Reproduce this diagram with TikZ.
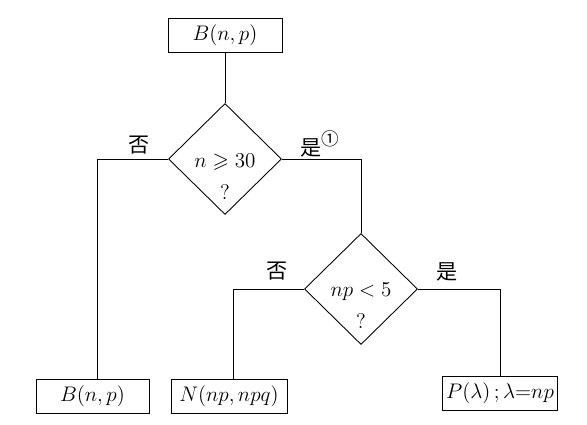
\documentclass[tikz,border=0pt]{standalone}
\usepackage{amsmath, amssymb}
\usepackage{fontspec}
\newfontfamily\cjk{Noto Sans CJK SC}
\usepackage{tikz}
\usetikzlibrary{positioning, calc, shapes.geometric}

\begin{document}
\begin{tikzpicture}[
  line width=0.5pt,
  distbox/.style={draw, rectangle, minimum width=2.28cm, minimum height=0.68cm, inner sep=2pt, font=\large},
  decision/.style={draw, diamond, minimum width=2.26cm, minimum height=2.22cm, inner sep=0pt},
  branchlabel/.style={font=\cjk\large, inner sep=1pt}
]
\useasboundingbox (0,0) rectangle (11.74,8.48);
% start
\node[distbox] (start) at (4.50,7.78) {$B(n,p)$};
% first test
\node[decision] (testn) at (4.50,5.30) {};
\node[font=\large] (condn) at ([yshift=-0.06cm]testn.center) {$n\geqslant 30$};
\node[font=\large] (askn) at ([yshift=-0.66cm]testn.center) {?};
% second test
\node[decision] (testnp) at (7.22,2.70) {};
\node[font=\large] (condnp) at ([yshift=-0.06cm]testnp.center) {$np<5$};
\node[font=\large] (asknp) at ([yshift=-0.64cm]testnp.center) {?};
% results
\node[distbox, minimum width=2.26cm] (binom) at (1.85,0.56) {$B(n,p)$};
\node[distbox, minimum width=2.32cm] (normal) at (4.58,0.56) {$N(np,npq)$};
\node[distbox] (poisson) at (10.00,0.62) {$P(\lambda)\,;\lambda{=}np$};
% branch labels
\node[branchlabel] (no1) at (2.78,5.58) {否};
\node[branchlabel] (yes1) at (6.40,5.60) {是\raisebox{0.9ex}{\normalsize ①}};
\node[branchlabel] (no2) at (5.54,3.06) {否};
\node[branchlabel] (yes2) at (8.94,3.04) {是};
% connectors
\draw (start.south) -- (testn.north);
\draw (testn.west) -| ([xshift=0.1cm]binom.north);
\draw (testn.east) -| (testnp.north);
\draw (testnp.west) -| ([xshift=0.08cm]normal.north);
\draw (testnp.east) -| (poisson.north);
\end{tikzpicture}
\end{document}
